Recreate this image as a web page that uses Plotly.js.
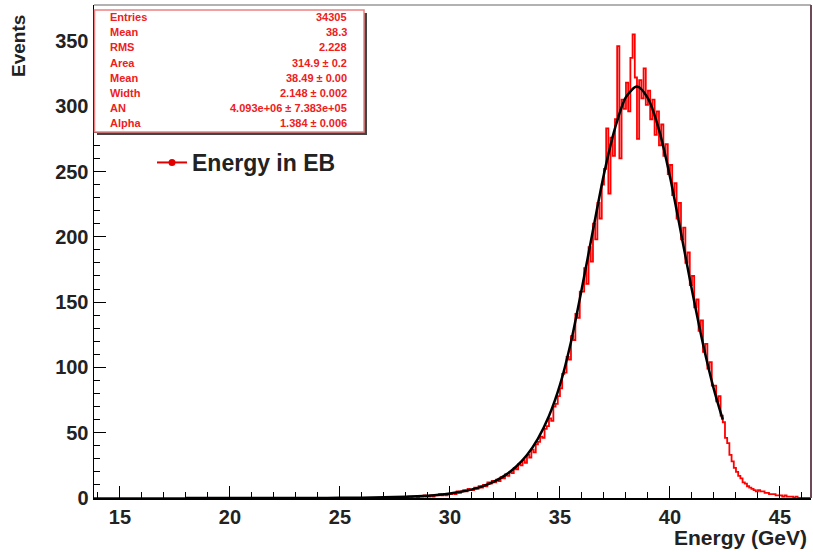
<!DOCTYPE html>
<html>
<head>
<meta charset="utf-8">
<script src="https://cdn.plot.ly/plotly-3.0.1.min.js"></script>
<style>html,body{margin:0;padding:0;background:#fff;}#chart{width:813px;height:552px;}</style>
</head>
<body>
<div id="chart"></div>
<script>
// ---- histogram data (bin lower edges start at histStart, width binWidth) ----
const histStart = 28.0;
const binWidth = 0.1;
const emptyFrom = 13.8; // histogram is empty below histStart
const counts = [
  0,1,0,1,1,0,1,1,2,1,            // 28.x
  1,2,1,2,2,3,2,3,2,3,            // 29.x
  3,4,3,5,4,5,6,5,7,6,            // 30.x
  6,8,7,9,8,10,9,12,11,13,        // 31.x
  12,14,13,16,15,18,17,20,19,23,  // 32.x
  22,26,25,29,27,33,31,37,35,41,  // 33.x
  43,47,46,53,55,61,59,70,72,78,  // 34.x
  84,95,96,108,106,124,121,141,138,158,   // 35.x
  158,176,164,192,181,210,198,226,214,240, // 36.x
  252,283,233,276,262,290,346,260,305,298, // 37.x
  318,296,337,355,322,275,320,306,329,301, // 38.x
  312,290,305,278,296,270,286,262,271,248, // 39.x
  255,232,241,214,226,198,207,180,188,163, // 40.x
  170,146,152,128,136,112,118,99,104,86,   // 41.x
  86,74,78,63,58,46,42,33,28,23,           // 42.x
  20,17,15,12,11,9,8,7,6,5,                // 43.x
  6,5,5,4,4,3,3,3,2,2,                     // 44.x
  2,1,2,1,1,1,0,1,0,0,                     // 45.x
  0,0,0,0                                  // 46.x
];

// ---- fit curve ----
const fitX = [18,20,22,24,25,26,27,28,28.5,29,29.5,30,30.5,31,31.5,32,32.5,33,33.5,34,34.5,35,35.5,36,36.5,37,37.5,38,38.5,39,39.5,40,40.5,41,41.5,42,42.4];
const fitY = [0,0,0.02,0.07,0.12,0.26,0.5,0.95,1.3,1.8,2.5,3.5,4.8,6.6,9.1,12.5,17.3,23.9,32.9,45.5,62.8,86.6,119.5,161,205,248,283,307,315,306,282,246,203,159,118,83,60];

// ---- stats box ----
const statNames = ["Entries","Mean","RMS","Area","Mean","Width","AN","Alpha"];
const statValues = ["34305","38.3","2.228","314.9 \u00b1 0.2","38.49 \u00b1 0.00","2.148 \u00b1 0.002","4.093e+06 \u00b1 7.383e+05","1.384 \u00b1 0.006"];

const legendName = "Energy in EB";
const xTitle = "Energy (GeV)";
const yTitle = "Events";

// ---- geometry helpers (pixel -> paper) ----
const L = 94, R = 811, T = 5, B = 498;
const W = R - L, H = B - T;
const px = p => (p - L) / W;
const py = p => (B - p) / H;

const hx = [emptyFrom], hy = [0];
counts.forEach((c, i) => { hx.push(+(histStart + i * binWidth).toFixed(2)); hy.push(c); });
hx.push(+(histStart + counts.length * binWidth).toFixed(2)); hy.push(counts[counts.length - 1]);

const FONT = "Liberation Sans, Arial, Helvetica, sans-serif";

const traces = [
  {x: hx, y: hy, type: 'scatter', mode: 'lines', line: {shape: 'hv', color: '#ff0000', width: 1.8}, showlegend: false, hoverinfo: 'skip'},
  {x: fitX, y: fitY, type: 'scatter', mode: 'lines', line: {shape: 'spline', smoothing: 0.8, color: '#000', width: 2.5}, showlegend: false, hoverinfo: 'skip'},
  {x: [null], y: [null], type: 'scatter', mode: 'lines+markers', name: legendName, line: {color: '#e00000', width: 2}, marker: {color: '#e00000', size: 7}}
];

const annotations = [];
statNames.forEach((n, i) => {
  const yy = py(17 + i * 15.2);
  annotations.push({xref: 'paper', yref: 'paper', x: px(108), y: yy, xanchor: 'left', yanchor: 'middle', text: n, showarrow: false, font: {family: FONT, size: 11, color: '#ee2020', weight: 'bold'}});
  annotations.push({xref: 'paper', yref: 'paper', x: px(349), y: yy, xanchor: 'right', yanchor: 'middle', text: statValues[i], showarrow: false, font: {family: FONT, size: 11, color: '#ee2020', weight: 'bold'}});
});
annotations.push({xref: 'paper', yref: 'paper', x: px(19), y: py(46), xanchor: 'center', yanchor: 'middle', textangle: -90, text: yTitle, showarrow: false, font: {family: FONT, size: 19, color: '#222', weight: 'bold'}});
annotations.push({xref: 'paper', yref: 'paper', x: px(809), y: py(537), xanchor: 'right', yanchor: 'middle', text: xTitle, showarrow: false, font: {family: FONT, size: 21, color: '#222', weight: 'bold'}});

const shapes = [
  // stats box shadow
  {type: 'rect', xref: 'paper', yref: 'paper', x0: px(97), x1: px(367), y0: py(135), y1: py(13), fillcolor: '#444', line: {width: 0}, layer: 'above'},
  // stats box
  {type: 'rect', xref: 'paper', yref: 'paper', x0: px(94.5), x1: px(364), y0: py(132), y1: py(10), fillcolor: '#fff', line: {color: '#f08080', width: 1.5}, layer: 'above'},
  // top and right frame
  {type: 'line', xref: 'paper', yref: 'paper', x0: 0, x1: 1, y0: 1, y1: 1, line: {color: '#999', width: 1.5}},
  {type: 'line', xref: 'paper', yref: 'paper', x0: 1, x1: 1, y0: 0, y1: 1, line: {color: '#6e4a58', width: 2}}
];

const layout = {
  width: 813, height: 552,
  margin: {l: L, r: 813 - R, t: T, b: 552 - B, pad: 0},
  paper_bgcolor: '#fff', plot_bgcolor: '#fff',
  font: {family: FONT, color: '#222'},
  xaxis: {
    range: [13.82, 46.41], showgrid: false, zeroline: false,
    showline: true, linecolor: '#000', linewidth: 2,
    tickmode: 'linear', tick0: 15, dtick: 5, ticks: 'inside', ticklen: 12, tickwidth: 1, tickcolor: '#000',
    minor: {tick0: 15, dtick: 1, ticks: 'inside', ticklen: 6, tickwidth: 1, tickcolor: '#000'},
    tickfont: {family: FONT, size: 20, color: '#222', weight: 'bold'}
  },
  yaxis: {
    range: [0, 377.5], showgrid: false, zeroline: false,
    showline: true, linecolor: '#000', linewidth: 1.5,
    tickmode: 'linear', tick0: 0, dtick: 50, ticks: 'inside', ticklen: 12, tickwidth: 1, tickcolor: '#000',
    minor: {tick0: 0, dtick: 10, ticks: 'inside', ticklen: 6, tickwidth: 1, tickcolor: '#000'},
    tickfont: {family: FONT, size: 20, color: '#222', weight: 'bold'}
  },
  showlegend: true,
  legend: {x: px(152), y: py(141), xanchor: 'left', yanchor: 'top', bgcolor: 'rgba(0,0,0,0)', borderwidth: 0,
           font: {family: FONT, size: 23, color: '#222', weight: 'bold'}},
  annotations: annotations,
  shapes: shapes
};

Plotly.newPlot('chart', traces, layout, {displayModeBar: false, staticPlot: true});
</script>
</body>
</html>
